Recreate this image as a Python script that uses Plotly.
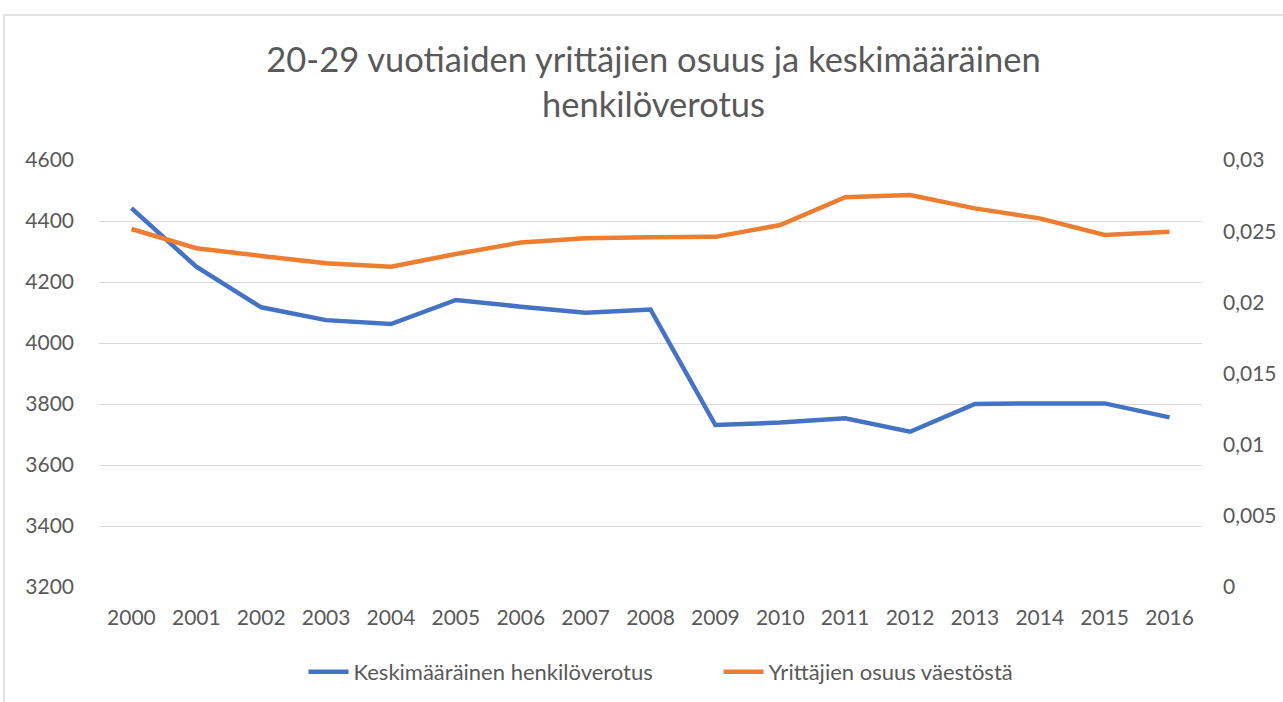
import plotly.graph_objects as go

years = [str(y) for y in range(2000, 2017)]
tax = [4442, 4250, 4117, 4075, 4062, 4141, 4119, 4099, 4110, 3731, 3739, 3753, 3709, 3800, 3802, 3802, 3756]
share = [0.02515, 0.0238, 0.02326, 0.02274, 0.0225, 0.0234, 0.0242, 0.0245, 0.02457, 0.0246,
         0.02543, 0.02738, 0.02754, 0.0266, 0.0259, 0.02473, 0.02496]
left_ticks = [3200, 3400, 3600, 3800, 4000, 4200, 4400, 4600]
right_ticks = [0, 0.005, 0.01, 0.015, 0.02, 0.025, 0.03]
right_labels = ["0", "0,005", "0,01", "0,015", "0,02", "0,025", "0,03"]

title_text = "20-29 vuotiaiden yrittäjien osuus ja keskimääräinen<br>henkilöverotus"
name_tax = "Keskimääräinen henkilöverotus"
name_share = "Yrittäjien osuus väestöstä"

FONT = "Lato, 'Open Sans', sans-serif"
GRAY = "#595959"

fig = go.Figure()
fig.add_trace(go.Scatter(x=years, y=tax, name=name_tax, mode="lines",
                         line=dict(color="#4472C4", width=4.5)))
fig.add_trace(go.Scatter(x=years, y=share, name=name_share, mode="lines", yaxis="y2",
                         line=dict(color="#ED7D31", width=4.5)))

W, H = 1283, 702
L, R, T, B = 99, 81, 160, 115
pw, ph = W - L - R, H - T - B

def px_x(p):
    return (p - L) / pw

def px_y(p):
    return (H - B - p) / ph

fig.update_layout(
    width=W, height=H,
    margin=dict(l=L, r=R, t=T, b=B, autoexpand=False),
    paper_bgcolor="white", plot_bgcolor="white",
    font=dict(family=FONT, color=GRAY, size=21),
    separators=", ",
    title=dict(text=title_text, x=653.5 / W, xanchor="center", y=1 - 72 / H, yanchor="middle",
               font=dict(family=FONT, size=34.5, color=GRAY)),
    xaxis=dict(type="category", range=[-0.5, 16.5], showgrid=False, zeroline=False, automargin=False,
               showline=False, ticks="", ticklabelstandoff=16, tickfont=dict(size=21, color=GRAY)),
    yaxis=dict(range=[3200, 4600], tickvals=left_ticks, showgrid=True, gridcolor="#d9d9d9",
               gridwidth=1, zeroline=False, showline=False, ticks="", ticklabelstandoff=24,
               automargin=False, tickfont=dict(size=21, color=GRAY)),
    yaxis2=dict(range=[0, 0.03], overlaying="y", side="right", tickvals=right_ticks,
                ticktext=right_labels, showgrid=False, zeroline=False, showline=False,
                automargin=False, ticks="", ticklabelstandoff=20, tickfont=dict(size=21, color=GRAY)),
    legend=dict(orientation="h", x=0.5 + 68 / pw, xanchor="center", y=px_y(672), yanchor="middle",
                font=dict(size=22, color=GRAY), itemwidth=40, tracegroupgap=0,
                entrywidth=360),
    showlegend=True,
    shapes=[dict(type="rect", xref="paper", yref="paper",
                 x0=px_x(4), x1=px_x(1295), y0=px_y(715), y1=px_y(15),
                 line=dict(color="#d9d9d9", width=1.5), fillcolor="rgba(0,0,0,0)", layer="below")],
)

fig.write_html("out.html", config={"displayModeBar": False},
               post_script="document.body.style.margin='0px';")
